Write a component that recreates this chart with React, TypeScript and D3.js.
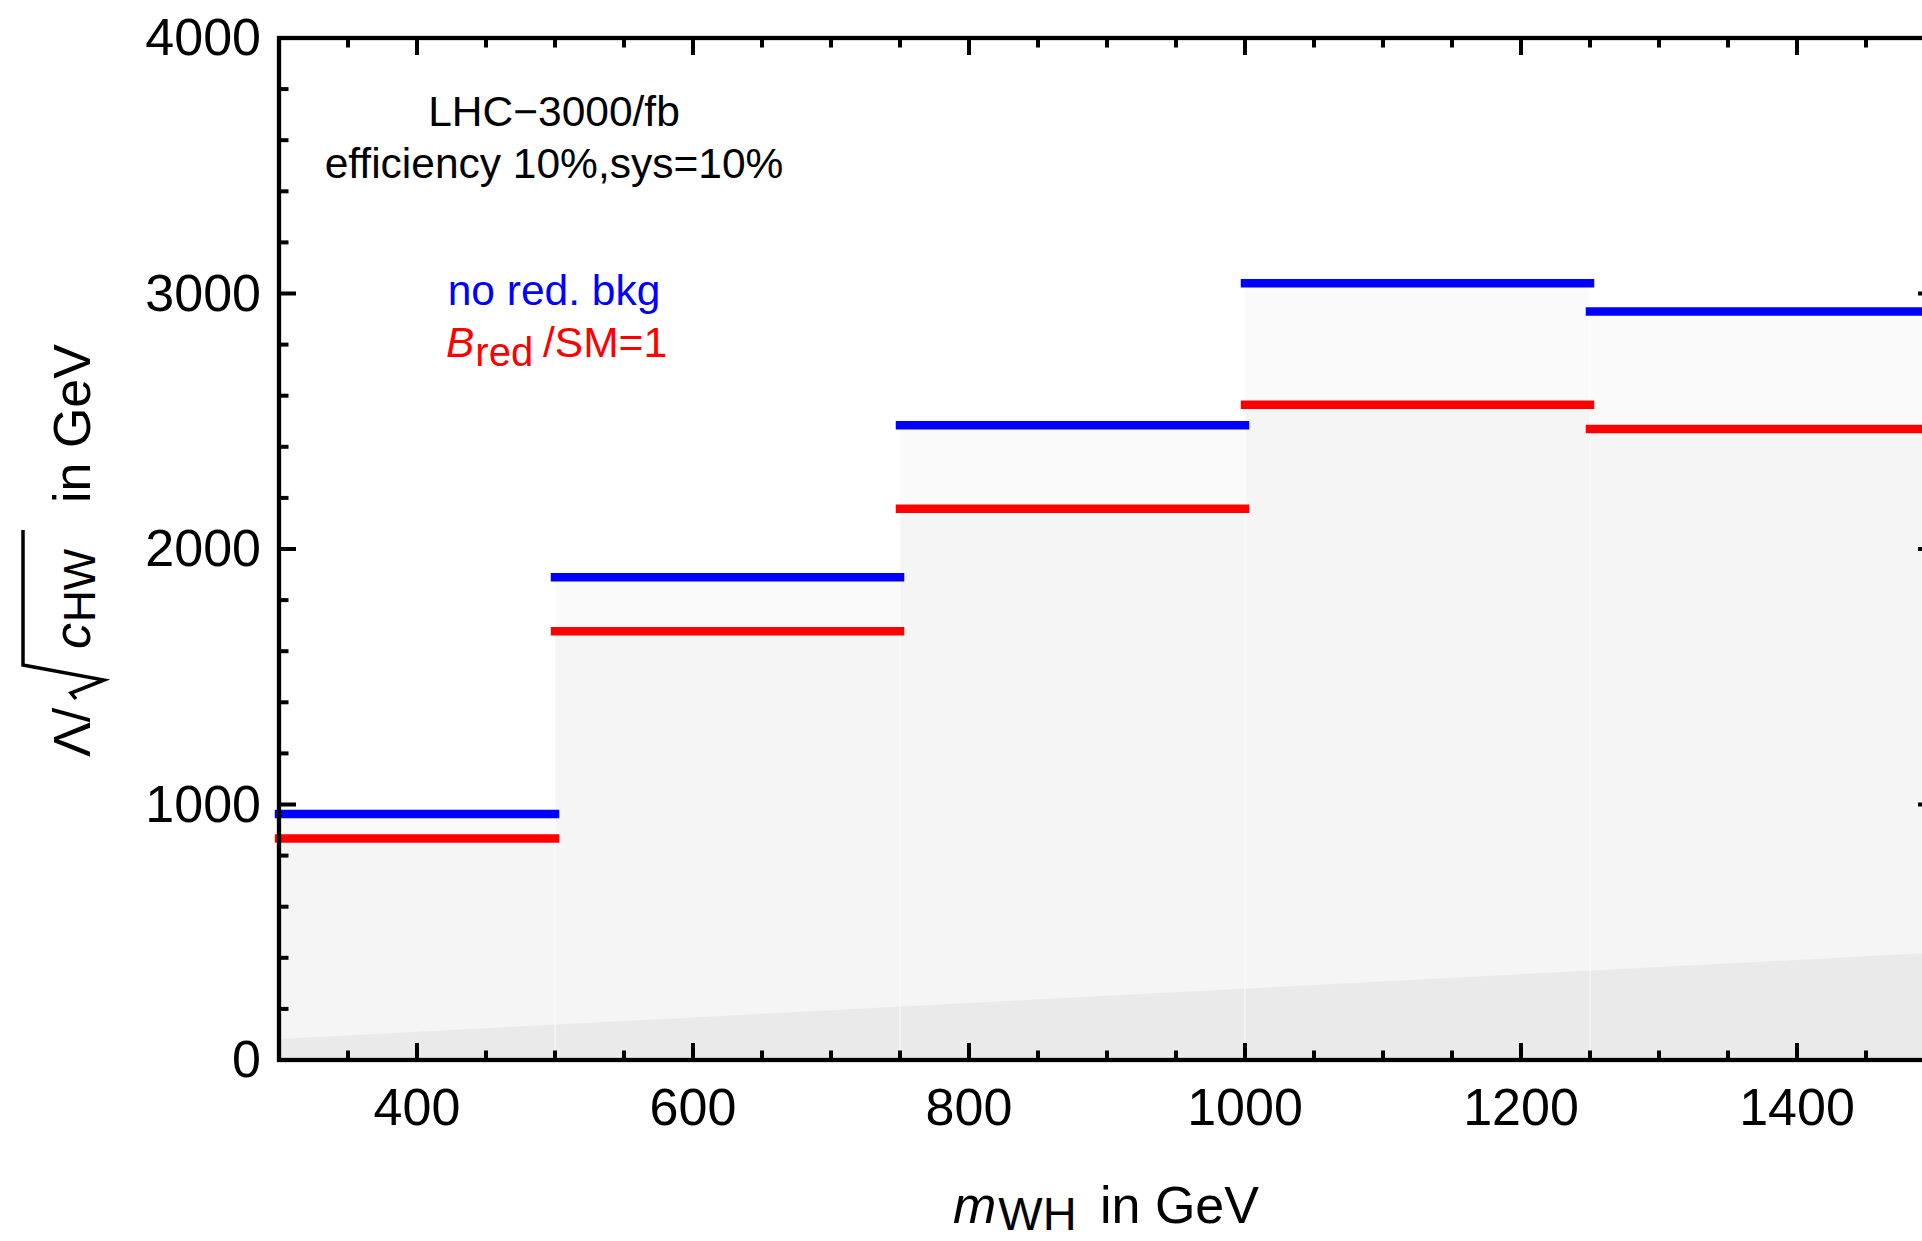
import * as d3 from "d3";
import { useEffect, useRef } from "react";
import * as React from "react";

// bin edges in m_WH (GeV)
const binEdges = [300, 500, 750, 1000, 1250, 1500];
// Lambda / sqrt(c_HW) reach per bin
const noRedBkg = [963, 1889, 2484, 3040, 2930];
const bRedSM1 = [867, 1678, 2158, 2565, 2470];
// darker floor band (straight edge through two points)
const floorX = [300, 1500];
const floorY = [82, 420];

const xTicks = [400, 600, 800, 1000, 1200, 1400];
const yTicks = [0, 1000, 2000, 3000, 4000];

const FONT = "'Liberation Sans', Arial, Helvetica, sans-serif";

const App: React.FC = () => {
  const ref = useRef<SVGSVGElement | null>(null);

  useEffect(() => {
    const W = 1922;
    const H = 1241;
    const left = 279;
    const top = 38;
    const bottom = 1060;
    const right = 1935; // frame goes past the picture edge

    const svg = d3.select(ref.current);
    svg.selectAll("*").remove();
    svg.attr("width", W).attr("height", H);

    const x = d3.scaleLinear().domain([300, 1500]).range([left, right]);
    const y = d3.scaleLinear().domain([0, 4000]).range([bottom, top]);

    const g = svg.append("g");

    // fills under the steps
    const bins = d3.range(noRedBkg.length).map((i) => ({
      x0: binEdges[i],
      x1: binEdges[i + 1],
      blue: noRedBkg[i],
      red: bRedSM1[i],
    }));

    g.selectAll("rect.fblue")
      .data(bins)
      .enter()
      .append("rect")
      .attr("x", (d) => x(d.x0))
      .attr("width", (d) => x(d.x1) - x(d.x0))
      .attr("y", (d) => y(d.blue))
      .attr("height", (d) => y(0) - y(d.blue))
      .attr("fill", "#fafafa");

    g.selectAll("rect.fred")
      .data(bins)
      .enter()
      .append("rect")
      .attr("x", (d) => x(d.x0))
      .attr("width", (d) => x(d.x1) - x(d.x0))
      .attr("y", (d) => y(d.red))
      .attr("height", (d) => y(0) - y(d.red))
      .attr("fill", "#f5f5f5");

    // floor band
    const floor = d3
      .area<number>()
      .x((d) => x(floorX[d]))
      .y0(y(0))
      .y1((d) => y(floorY[d]));
    g.append("path")
      .attr("d", floor([0, 1]) as string)
      .attr("fill", "#eaeaea");

    // faint seams at bin edges
    g.selectAll("line.seam")
      .data(binEdges.slice(1, -1))
      .enter()
      .append("line")
      .attr("x1", (d) => x(d))
      .attr("x2", (d) => x(d))
      .attr("y1", y(0))
      .attr("y2", (d, i) => y(Math.max(noRedBkg[i], noRedBkg[i + 1])))
      .attr("stroke", "#ffffff")
      .attr("stroke-opacity", 0.55)
      .attr("stroke-width", 1.5);

    // step segments
    const drawSteps = (vals: number[], color: string) => {
      g.selectAll(null)
        .data(vals)
        .enter()
        .append("line")
        .attr("x1", (d, i) => x(binEdges[i]))
        .attr("x2", (d, i) => x(binEdges[i + 1]))
        .attr("y1", (d) => y(d))
        .attr("y2", (d) => y(d))
        .attr("stroke", color)
        .attr("stroke-width", 8.5)
        .attr("stroke-linecap", "square");
    };
    drawSteps(bRedSM1, "#ff0000");
    drawSteps(noRedBkg, "#0000ff");

    // frame
    g.append("rect")
      .attr("x", left)
      .attr("y", top)
      .attr("width", right - left)
      .attr("height", bottom - top)
      .attr("fill", "none")
      .attr("stroke", "#000")
      .attr("stroke-width", 4.3);

    // ticks, pointing inward on every side
    const xMinor = d3.range(350, 1500, 50).filter((v) => v % 200 !== 0);
    const yMinor = d3.range(200, 4000, 200).filter((v) => v % 1000 !== 0);
    const tick = (x1: number, y1: number, x2: number, y2: number) =>
      g
        .append("line")
        .attr("x1", x1)
        .attr("y1", y1)
        .attr("x2", x2)
        .attr("y2", y2)
        .attr("stroke", "#000")
        .attr("stroke-width", 4);

    xTicks.forEach((v) => {
      tick(x(v), bottom, x(v), bottom - 17);
      tick(x(v), top, x(v), top + 17);
    });
    xMinor.forEach((v) => {
      tick(x(v), bottom, x(v), bottom - 9.5);
      tick(x(v), top, x(v), top + 9.5);
    });
    yTicks.slice(1, -1).forEach((v) => {
      tick(left, y(v), left + 17, y(v));
      tick(right, y(v), right - 17, y(v));
    });
    yMinor.forEach((v) => {
      tick(left, y(v), left + 9.5, y(v));
      tick(right, y(v), right - 9.5, y(v));
    });

    // tick labels
    g.selectAll("text.xt")
      .data(xTicks)
      .enter()
      .append("text")
      .attr("x", (d) => x(d))
      .attr("y", 1125)
      .attr("text-anchor", "middle")
      .attr("font-family", FONT)
      .attr("font-size", 52)
      .text((d) => d);

    g.selectAll("text.yt")
      .data(yTicks)
      .enter()
      .append("text")
      .attr("x", 261)
      .attr("y", (d) => y(d) + 17)
      .attr("text-anchor", "end")
      .attr("font-family", FONT)
      .attr("font-size", 52)
      .text((d) => d);

    // x axis label
    const xl = g
      .append("text")
      .attr("x", 953)
      .attr("y", 1223)
      .attr("font-family", FONT)
      .attr("font-size", 52);
    xl.append("tspan").attr("font-style", "italic").text("m");
    xl.append("tspan").attr("font-size", 47).attr("dy", 7).attr("dx", 2).text("WH");
    xl.append("tspan").attr("x", 1100).attr("dy", -7).text("in GeV");

    // y axis label, rotated
    const yl = g.append("g").attr("transform", "translate(90,757) rotate(-90)");
    yl.append("text")
      .attr("x", 0)
      .attr("y", 0)
      .attr("font-family", FONT)
      .attr("font-size", 52)
      .text("\u039b/");
    yl.append("path")
      .attr("d", "M58,-14 L64,-19 L77,14 L92,-67 L227,-67")
      .attr("fill", "none")
      .attr("stroke", "#000")
      .attr("stroke-width", 3.5)
      .attr("stroke-linejoin", "miter");
    const ylc = yl
      .append("text")
      .attr("x", 108)
      .attr("y", 0)
      .attr("font-family", FONT)
      .attr("font-size", 52);
    ylc.append("tspan").attr("font-style", "italic").text("c");
    ylc.append("tspan").attr("font-size", 44).attr("dy", 5).attr("dx", 1).text("HW");
    yl.append("text")
      .attr("x", 254)
      .attr("y", 0)
      .attr("font-family", FONT)
      .attr("font-size", 52)
      .text("in GeV");

    // annotations
    g.append("text")
      .attr("x", 554)
      .attr("y", 126)
      .attr("text-anchor", "middle")
      .attr("font-family", FONT)
      .attr("font-size", 42.5)
      .text("LHC\u22123000/fb");
    g.append("text")
      .attr("x", 554)
      .attr("y", 178)
      .attr("text-anchor", "middle")
      .attr("font-family", FONT)
      .attr("font-size", 42.5)
      .text("efficiency 10%,sys=10%");

    // legend
    g.append("text")
      .attr("x", 554)
      .attr("y", 305)
      .attr("text-anchor", "middle")
      .attr("font-family", FONT)
      .attr("font-size", 42.5)
      .attr("fill", "#0000ff")
      .text("no red. bkg");
    const lr = g
      .append("text")
      .attr("x", 446)
      .attr("y", 357)
      .attr("font-family", FONT)
      .attr("font-size", 42.5)
      .attr("fill", "#ff0000");
    lr.append("tspan").attr("font-style", "italic").text("B");
    lr.append("tspan").attr("font-size", 40).attr("dy", 9).attr("dx", 1).text("red");
    lr.append("tspan").attr("x", 543).attr("dy", -9).text("/SM=1");
  }, []);

  return (
    <svg
      ref={ref}
      style={{ position: "absolute", left: 0, top: 0, background: "#fff" }}
    />
  );
};

export default App;
